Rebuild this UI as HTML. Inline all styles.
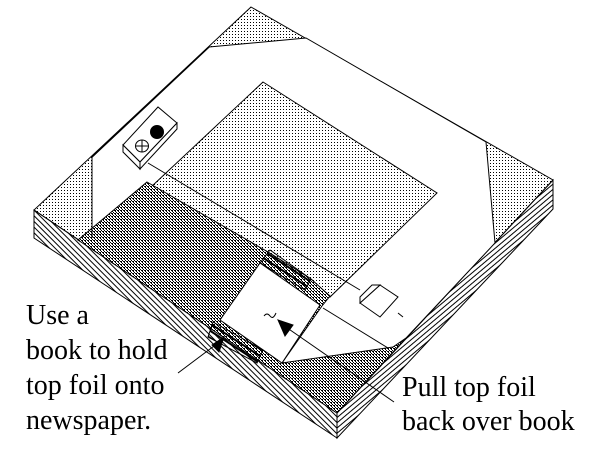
<!DOCTYPE html>
<html><head><style>
html,body{margin:0;padding:0;background:#fff;}
svg{display:block;}
text{font-family:"Liberation Serif",serif;font-size:28px;fill:#000;}
</style></head><body>
<svg width="600" height="450" viewBox="0 0 600 450" xmlns="http://www.w3.org/2000/svg">
<defs>
<pattern id="lt" width="3" height="3" patternUnits="userSpaceOnUse"><rect x="1" y="1" width="1" height="1" fill="#000"/></pattern>
<pattern id="dn" width="3" height="3" patternUnits="userSpaceOnUse"><rect width="3" height="3" fill="#fff"/><rect x="0" y="0" width="2" height="1" fill="#000"/><rect x="1" y="1" width="1" height="1" fill="#000"/><rect x="2" y="2" width="1" height="1" fill="#000"/></pattern>
<pattern id="hl" width="4" height="4" patternUnits="userSpaceOnUse" patternTransform="rotate(45)"><rect width="4" height="1" fill="#000"/></pattern>
<pattern id="hr" width="4" height="4" patternUnits="userSpaceOnUse" patternTransform="rotate(-40)"><rect width="4" height="1" fill="#000"/></pattern>
<pattern id="bh" width="6" height="6" patternUnits="userSpaceOnUse" patternTransform="rotate(33)"><rect width="6" height="2" fill="#000"/></pattern>
</defs>
<g stroke="#000" stroke-width="1">
<polygon points="34,210 337,413 337,438 34,238" fill="url(#hl)"/>
<polygon points="337,413 553,180 553,209 337,438" fill="url(#hr)"/>
<polygon points="251,7 553,180 337,413 34,210" fill="url(#lt)"/>
<polygon points="209,47 306,38 486,142 495,243 393,352 282,363 78,240 92,238 92,157" fill="#fff"/>
<polygon points="263,82 437,193 330,297 311,279 268,252 151,187" fill="url(#lt)"/>
<polygon points="147,182 268,252 311,279 330,296 322,306 282,363 393,347 406,338 337,413 78,240" fill="url(#dn)"/>
<polygon points="270,250 311,279 305,290 260,263" fill="url(#bh)"/>
<polygon points="260,263 320,305 282,363 220,320" fill="#fff"/>
<polygon points="213,322 263,350 257,363 208,337" fill="url(#bh)"/>
<line x1="323" y1="308" x2="388" y2="348"/>
<line x1="148" y1="163" x2="360" y2="290"/>
<line x1="398" y1="313" x2="403" y2="317"/>
<line x1="92" y1="157" x2="92" y2="238"/>
<line x1="209" y1="47" x2="92" y2="157" stroke-width="1.5"/>
<polygon points="123,145 158,107 177,123 140,162" fill="#fff"/>
<polygon points="123,145 140,162 140,169 123,152" fill="#fff"/>
<polygon points="140,162 177,123 177,129 140,169" fill="#fff"/>
<circle cx="157" cy="132" r="6.5" fill="#000"/>
<ellipse cx="142" cy="146" rx="6.5" ry="6" fill="#fff"/>
<line x1="136" y1="146" x2="148" y2="146"/><line x1="142" y1="140" x2="142" y2="152"/>
<polygon points="360,303 380,285 398,297 380,317" fill="#fff"/>
<polygon points="360,297 372,285 380,285 360,303" fill="#fff"/>
<path d="M264,316 q3,-4 6,0 t6,-3" fill="none"/>
<line x1="394" y1="402" x2="283" y2="325"/>
<polygon points="278,320 293,325 285,336" fill="#000"/>
<line x1="178" y1="373" x2="214" y2="346"/>
<polygon points="212,345 224,337 219,352" fill="#000"/>
</g>
<text x="26" y="324">Use a</text>
<text x="26" y="359">book to hold</text>
<text x="26" y="394">top foil onto</text>
<text x="26" y="429">newspaper.</text>
<text x="402" y="396">Pull top foil</text>
<text x="402" y="430">back over book</text>
</svg>
</body></html>
